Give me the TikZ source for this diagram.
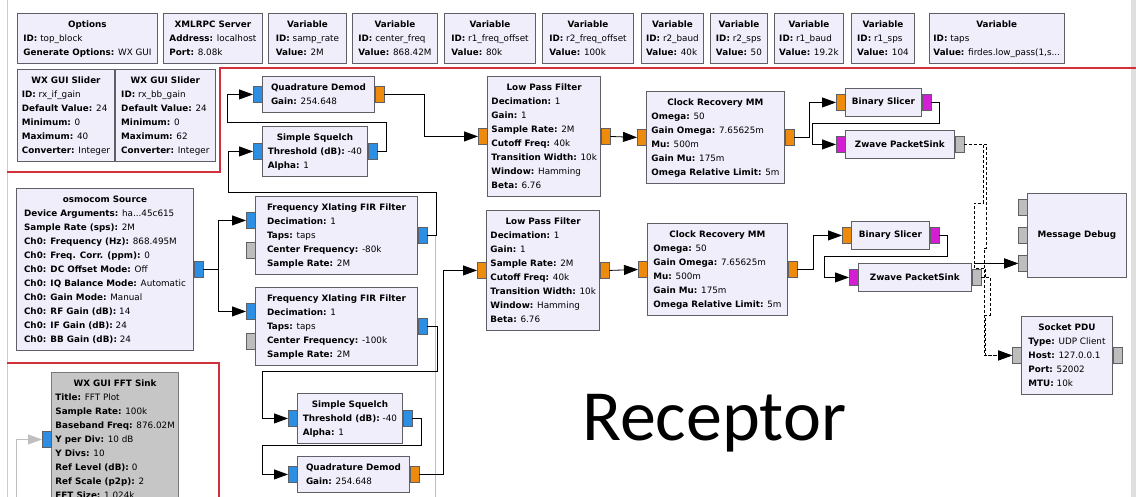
\documentclass[tikz,border=0pt]{standalone}
\usepackage{fontspec}
\setmainfont{DejaVu Sans}
\newfontfamily\captionfont{Carlito}
\usetikzlibrary{arrows.meta,positioning}
\definecolor{blkfill}{HTML}{F0EEFB}
\definecolor{blkedge}{HTML}{5F5F66}
\definecolor{offfill}{HTML}{C6C6C6}
\definecolor{offedge}{HTML}{7A7A7A}
\definecolor{cplxport}{HTML}{2D8FE3}
\definecolor{fltport}{HTML}{EE8A0C}
\definecolor{bytport}{HTML}{D41ED4}
\definecolor{msgport}{HTML}{BDBDBD}
\definecolor{markred}{HTML}{D0313A}
\newcommand{\kv}[2]{\textbf{#1:} #2}
\newcommand{\grblk}[2]{\begin{tabular}{@{}l@{}}\multicolumn{1}{@{}c@{}}{\textbf{#1}}\\#2\end{tabular}}
\newcommand{\grvar}[2]{\grblk{Variable}{\kv{ID}{#1}\\\kv{Value}{#2}}}

\begin{document}
\begin{tikzpicture}[
    x=1pt, y=-1pt,
    blk/.style={draw=blkedge, fill=blkfill, line width=0.9pt, anchor=north west, inner xsep=4pt, inner ysep=4pt, minimum height=28pt, font=\fontsize{8.8}{14}\selectfont},
    off/.style={blk, draw=offedge, fill=offfill},
    port/.style={draw=blkedge, line width=0.6pt, minimum width=9pt, minimum height=16pt, inner sep=0pt, outer sep=0pt},
    cplx/.style={port, fill=cplxport},
    flt/.style={port, fill=fltport},
    byt/.style={port, fill=bytport},
    msg/.style={port, fill=msgport},
    wire/.style={line width=0.8pt, -{Triangle[length=14pt, width=10pt]}},
    msgwire/.style={wire, dash pattern=on 3pt off 2pt},
    offwire/.style={wire, draw=gray!50},
    markline/.style={draw=markred, line width=2.5pt}
]
\useasboundingbox (0,0) rectangle (1136,497);
\clip (0,0) rectangle (1136,497);
\fill[white] (0,0) rectangle (1136,497);
\draw[gray!40, line width=0.8pt] (7,0) -- (7,497);
\fill[gray!25] (1131,0) rectangle (1136,497);

% red frames
\draw[markline] (7,172) -- (220,172) -- (220,68) -- (1136,68);
\draw[markline] (7,363) -- (219,363) -- (219,497);

% Options and variables
\node[blk, minimum width=140pt] (opts) at (17,13) {\grblk{Options}{\kv{ID}{top\_block}\\\kv{Generate Options}{WX GUI}}};
\node[blk, minimum width=99pt] (xmlrpc) at (163,13) {\grblk{XMLRPC Server}{\kv{Address}{localhost}\\\kv{Port}{8.08k}}};
\node[blk, minimum width=78pt] (samprate) at (268,13) {\grvar{samp\_rate}{2M}};
\node[blk, minimum width=85pt] (centerfreq) at (352,13) {\grvar{center\_freq}{868.42M}};
\node[blk, minimum width=91pt] (roneoff) at (444,13) {\grvar{r1\_freq\_offset}{80k}};
\node[blk, minimum width=91pt] (rtwooff) at (542,13) {\grvar{r2\_freq\_offset}{100k}};
\node[blk, minimum width=62pt] (rtwobaud) at (641,13) {\grvar{r2\_baud}{40k}};
\node[blk, minimum width=57pt] (rtwosps) at (710,13) {\grvar{r2\_sps}{50}};
\node[blk, minimum width=69pt] (ronebaud) at (774,13) {\grvar{r1\_baud}{19.2k}};
\node[blk, minimum width=63pt] (ronesps) at (851,13) {\grvar{r1\_sps}{104}};
\node[blk, minimum width=134pt] (taps) at (929,13) {\grvar{taps}{firdes.low\_pass(1,s...}};

% Sliders
\node[blk, minimum width=97pt] (ifgain) at (17,69) {\grblk{WX GUI Slider}{\kv{ID}{rx\_if\_gain}\\\kv{Default Value}{24}\\\kv{Minimum}{0}\\\kv{Maximum}{40}\\\kv{Converter}{Integer}}};
\node[blk, minimum width=100pt, right=0pt of ifgain] (bbgain) {\grblk{WX GUI Slider}{\kv{ID}{rx\_bb\_gain}\\\kv{Default Value}{24}\\\kv{Minimum}{0}\\\kv{Maximum}{62}\\\kv{Converter}{Integer}}};

% Source
\node[blk, minimum width=177pt] (osmo) at (16,188) {\grblk{osmocom Source}{\kv{Device Arguments}{ha...45c615}\\\kv{Sample Rate (sps)}{2M}\\\kv{Ch0: Frequency (Hz)}{868.495M}\\\kv{Ch0: Freq. Corr. (ppm)}{0}\\\kv{Ch0: DC Offset Mode}{Off}\\\kv{Ch0: IQ Balance Mode}{Automatic}\\\kv{Ch0: Gain Mode}{Manual}\\\kv{Ch0: RF Gain (dB)}{14}\\\kv{Ch0: IF Gain (dB)}{24}\\\kv{Ch0: BB Gain (dB)}{24}}};
\node[cplx, anchor=west] (osmoo) at (osmo.east) {};

% Channel filters
\node[blk, minimum width=162pt] (firone) at (255,196) {\grblk{Frequency Xlating FIR Filter}{\kv{Decimation}{1}\\\kv{Taps}{taps}\\\kv{Center Frequency}{-80k}\\\kv{Sample Rate}{2M}}};
\node[cplx, anchor=east] (fironei) at ([yshift=15pt]firone.west) {};
\node[msg, anchor=east] (fironef) at ([yshift=-15pt]firone.west) {};
\node[cplx, anchor=west] (fironeo) at (firone.east) {};

\node[blk, minimum width=162pt] (firtwo) at (255,287) {\grblk{Frequency Xlating FIR Filter}{\kv{Decimation}{1}\\\kv{Taps}{taps}\\\kv{Center Frequency}{-100k}\\\kv{Sample Rate}{2M}}};
\node[cplx, anchor=east] (firtwoi) at ([yshift=15pt]firtwo.west) {};
\node[msg, anchor=east] (firtwof) at ([yshift=-15pt]firtwo.west) {};
\node[cplx, anchor=west] (firtwoo) at (firtwo.east) {};

% Squelch and demod, upper channel
\node[blk, minimum width=112pt] (qdone) at (262,76) {\grblk{Quadrature Demod}{\kv{Gain}{254.648}}};
\node[cplx, anchor=east] (qdonei) at (qdone.west) {};
\node[flt, anchor=west] (qdoneo) at (qdone.east) {};
\node[blk, minimum width=105pt] (sqone) at (262,126) {\grblk{Simple Squelch}{\kv{Threshold (dB)}{-40}\\\kv{Alpha}{1}}};
\node[cplx, anchor=east] (sqonei) at (sqone.west) {};
\node[cplx, anchor=west] (sqoneo) at (sqone.east) {};

% Squelch and demod, lower channel
\node[blk, minimum width=105pt] (sqtwo) at (297,393) {\grblk{Simple Squelch}{\kv{Threshold (dB)}{-40}\\\kv{Alpha}{1}}};
\node[cplx, anchor=east] (sqtwoi) at (sqtwo.west) {};
\node[cplx, anchor=west] (sqtwoo) at (sqtwo.east) {};
\node[blk, minimum width=112pt] (qdtwo) at (297,456) {\grblk{Quadrature Demod}{\kv{Gain}{254.648}}};
\node[cplx, anchor=east] (qdtwoi) at (qdtwo.west) {};
\node[flt, anchor=west] (qdtwoo) at (qdtwo.east) {};

% Low pass filters
\node[blk, minimum width=112pt] (lpfone) at (487,76) {\grblk{Low Pass Filter}{\kv{Decimation}{1}\\\kv{Gain}{1}\\\kv{Sample Rate}{2M}\\\kv{Cutoff Freq}{40k}\\\kv{Transition Width}{10k}\\\kv{Window}{Hamming}\\\kv{Beta}{6.76}}};
\node[flt, anchor=east] (lpfonei) at (lpfone.west) {};
\node[flt, anchor=west] (lpfoneo) at (lpfone.east) {};
\node[blk, minimum width=113pt] (lpftwo) at (486,210) {\grblk{Low Pass Filter}{\kv{Decimation}{1}\\\kv{Gain}{1}\\\kv{Sample Rate}{2M}\\\kv{Cutoff Freq}{40k}\\\kv{Transition Width}{10k}\\\kv{Window}{Hamming}\\\kv{Beta}{6.76}}};
\node[flt, anchor=east] (lpftwoi) at (lpftwo.west) {};
\node[flt, anchor=west] (lpftwoo) at (lpftwo.east) {};

% Clock recovery
\node[blk, minimum width=138pt] (crone) at (646,91) {\grblk{Clock Recovery MM}{\kv{Omega}{50}\\\kv{Gain Omega}{7.65625m}\\\kv{Mu}{500m}\\\kv{Gain Mu}{175m}\\\kv{Omega Relative Limit}{5m}}};
\node[flt, anchor=east] (cronei) at (crone.west) {};
\node[flt, anchor=west] (croneo) at (crone.east) {};
\node[blk, minimum width=140pt] (crtwo) at (647,223) {\grblk{Clock Recovery MM}{\kv{Omega}{50}\\\kv{Gain Omega}{7.65625m}\\\kv{Mu}{500m}\\\kv{Gain Mu}{175m}\\\kv{Omega Relative Limit}{5m}}};
\node[flt, anchor=east] (crtwoi) at (crtwo.west) {};
\node[flt, anchor=west] (crtwoo) at (crtwo.east) {};

% Slicers and packet sinks
\node[blk, minimum width=76pt] (bsone) at (845,88) {\textbf{Binary Slicer}};
\node[flt, anchor=east] (bsonei) at (bsone.west) {};
\node[byt, anchor=west] (bsoneo) at (bsone.east) {};
\node[blk, minimum width=109pt] (zwone) at (845,130) {\textbf{Zwave PacketSink}};
\node[byt, anchor=east] (zwonei) at (zwone.west) {};
\node[msg, anchor=west] (zwoneo) at (zwone.east) {};
\node[blk, minimum width=78pt] (bstwo) at (851,221) {\textbf{Binary Slicer}};
\node[flt, anchor=east] (bstwoi) at (bstwo.west) {};
\node[byt, anchor=west] (bstwoo) at (bstwo.east) {};
\node[blk, minimum width=113pt] (zwtwo) at (858,263) {\textbf{Zwave PacketSink}};
\node[byt, anchor=east] (zwtwoi) at (zwtwo.west) {};
\node[msg, anchor=west] (zwtwoo) at (zwtwo.east) {};

% Message sinks
\node[blk, minimum width=99pt, minimum height=84pt] (dbg) at (1027,193) {\textbf{Message Debug}};
\node[msg, anchor=east] (dbgone) at ([yshift=28pt]dbg.west) {};
\node[msg, anchor=east] (dbgtwo) at (dbg.west) {};
\node[msg, anchor=east] (dbgthree) at ([yshift=-28pt]dbg.west) {};
\node[blk, minimum width=91pt] (pdu) at (1021,316) {\grblk{Socket PDU}{\kv{Type}{UDP Client}\\\kv{Host}{127.0.0.1}\\\kv{Port}{52002}\\\kv{MTU}{10k}}};
\node[msg, anchor=east] (pdui) at (pdu.west) {};
\node[msg, anchor=west] (pduo) at (pdu.east) {};

% Disabled FFT sink
\node[off, minimum width=126pt] (fft) at (51,372) {\grblk{WX GUI FFT Sink}{\kv{Title}{FFT Plot}\\\kv{Sample Rate}{100k}\\\kv{Baseband Freq}{876.02M}\\\kv{Y per Div}{10 dB}\\\kv{Y Divs}{10}\\\kv{Ref Level (dB)}{0}\\\kv{Ref Scale (p2p)}{2}\\\kv{FFT Size}{1.024k}}};
\node[cplx, anchor=east] (ffti) at (fft.west) {};

\node[font=\captionfont\fontsize{72}{80}\selectfont, anchor=base west, inner sep=0pt] (caption) at (582,440) {Receptor};

% Connections
\draw[wire] (osmoo.east) -- ++(15,0) |- (fironei.west);
\draw[wire] (osmoo.east) -- ++(15,0) |- (firtwoi.west);
\draw[offwire] (fironeo.east) -| (435,520) -| ([xshift=-26pt]ffti.west) -- (ffti.west);
\draw[wire] (fironeo.east) -| (436,192) -| ([xshift=-25pt]sqonei.west) -- (sqonei.west);
\draw[wire] (sqoneo.east) -| (386,122) -| ([xshift=-26pt]qdonei.west) -- (qdonei.west);
\draw[wire] (qdoneo.east) -- ++(40,0) |- (lpfonei.west);
\draw[wire] (firtwoo.east) -| (437,371) -| ([xshift=-26pt]sqtwoi.west) -- (sqtwoi.west);
\draw[wire] (sqtwoo.east) -| (421,445) -| ([xshift=-26pt]qdtwoi.west) -- (qdtwoi.west);
\draw[wire] (qdtwoo.east) -- ++(24,0) |- (lpftwoi.west);
\draw[wire] (lpfoneo.east) -- (cronei.west);
\draw[wire] (lpftwoo.east) -- (crtwoi.west);
\draw[wire] (croneo.east) -- ++(15,0) |- (bsonei.west);
\draw[wire] (crtwoo.east) -- ++(16,0) |- (bstwoi.west);
\draw[wire] (bsoneo.east) -| (939,123) -| ([xshift=-24pt]zwonei.west) -- (zwonei.west);
\draw[wire] (bstwoo.east) -| (947,256) -| ([xshift=-25pt]zwtwoi.west) -- (zwtwoi.west);
\draw[msgwire] (zwoneo.east) -| (983,203) -| ([xshift=-44pt]dbgthree.west) -- (dbgthree.west);
\draw[msgwire] (zwoneo.east) -| (986,248) -| ([xshift=-28pt]pdui.west) -- (pdui.west);
\draw[msgwire] (zwtwoo.east) -| (985,268) -| ([xshift=-44pt]dbgthree.west) -- (dbgthree.west);
\draw[msgwire] (zwtwoo.east) -| (990,315) -| ([xshift=-27pt]pdui.west) -- (pdui.west);
\end{tikzpicture}
\end{document}
